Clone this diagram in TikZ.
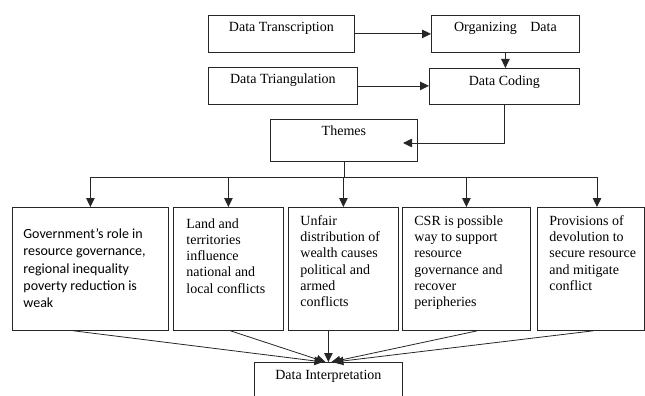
\documentclass[tikz,border=0pt]{standalone}
\usepackage{fontspec}
\setmainfont{Liberation Serif}
\newfontfamily\calib{Carlito}
\usetikzlibrary{arrows.meta}
\tikzset{
 bx/.style={draw=black!85, line width=0.8pt, inner sep=0pt, anchor=north west, font=\fontsize{14}{16.25}\selectfont, text=black},
 sbx/.style={bx, font=\calib\fontsize{14}{17.25}\selectfont},
 conn/.style={draw=black!85, line width=0.8pt},
 arr/.style={conn, -{Triangle[length=9pt,width=8.5pt]}},
}
\newcommand{\bt}[5]{\begin{minipage}[c][#2pt][t]{#1pt}\vspace*{\dimexpr #3pt-0.7\baselineskip\relax}#4\strut #5\par\end{minipage}}
\newcommand{\lft}[1]{\raggedright\leftskip=#1pt\relax}
\begin{document}
\begin{tikzpicture}[x=1pt,y=-1pt]
\useasboundingbox (0,0) rectangle (645,396);
% top boxes
\node[bx] (dtr) at (208,15) {\bt{146}{37}{16}{\centering}{Data Transcription}};
\node[bx] (org) at (431,15) {\bt{148}{37}{16}{\centering}{Organizing\hspace{10pt} Data}};
\node[bx] (dtri) at (208,67) {\bt{149}{37}{15.7}{\centering}{Data Triangulation}};
\node[bx] (cod) at (429,68) {\bt{150}{36}{17}{\centering}{Data Coding}};
\node[bx] (themes) at (270,119) {\bt{147}{42}{16.3}{\centering}{Themes}};
% theme boxes
\node[sbx] (b1) at (12,207) {\bt{156}{123}{31.3}{\lft{11}}{Government’s role in\\ resource governance,\\ regional inequality\\ poverty reduction is\\ weak}};
\node[bx] (b2) at (173,207) {\bt{110}{123}{20.7}{\lft{13}}{Land and\\ territories\\ influence\\ national and\\ local conflicts}};
\node[bx] (b3) at (288,207) {\bt{110}{123}{18}{\lft{12}}{Unfair\\ distribution of\\ wealth causes\\ political and\\ armed\\ conflicts}};
\node[bx] (b4) at (402,207) {\bt{128}{123}{18}{\lft{12}}{CSR is possible\\ way to support\\ resource\\ governance and\\ recover\\ peripheries}};
\node[bx] (b5) at (537,207) {\bt{107}{123}{18}{\lft{12}}{Provisions of\\ devolution to\\ secure resource\\ and mitigate\\ conflict}};
% interpretation
\node[bx] (di) at (254,362) {\bt{148}{42}{17}{\centering}{Data Interpretation}};
% connectors
\draw[arr] (dtr.east) -- (org.west);
\draw[arr] (dtri.east) -- (dtri.east -| cod.west);
\draw[arr] (org.south) -- (org.south |- cod.north);
\coordinate (thin) at (403,143);
\draw[arr] (cod.south) |- (thin);
\coordinate (busL) at (90,177);
\coordinate (busR) at (597,177);
\draw[conn] (busL) -- (busR);
\draw[conn] (themes.south) -- (themes.south |- busL);
\draw[arr] (b1.north |- busL) -- (b1.north);
\draw[arr] (b2.north |- busL) -- (b2.north);
\draw[arr] (b3.north |- busL) -- (b3.north);
\draw[arr] (b4.north |- busL) -- (b4.north);
\draw[arr] (busR) -- (busR |- b5.north);
\draw[arr] ([xshift=-17pt]b1.south) -- ([xshift=-5pt]di.north);
\draw[arr] ([xshift=2pt]b2.south) -- ([xshift=-3pt]di.north);
\draw[arr] ([xshift=-15pt]b3.south) -- (di.north);
\draw[arr] ([xshift=11pt]b4.south) -- ([xshift=3pt]di.north);
\draw[arr] ([xshift=2.5pt]b5.south) -- ([xshift=6pt]di.north);
\end{tikzpicture}
\end{document}
